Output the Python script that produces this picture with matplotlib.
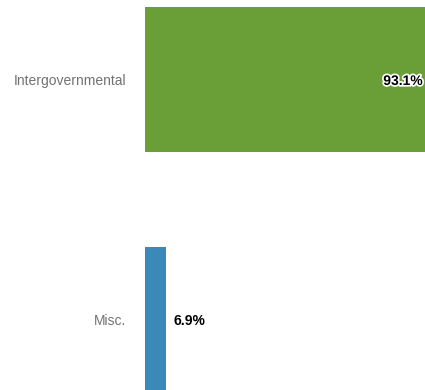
import matplotlib
matplotlib.use("Agg")
import matplotlib.pyplot as plt
import matplotlib.patheffects as pe

categories = ["Intergovernmental", "Misc."]
values = [93.1, 6.9]
labels = ["93.1%", "6.9%"]
colors = ["#6a9f38", "#3a89b9"]

plt.rcParams["font.family"] = ["Liberation Sans", "DejaVu Sans"]

fig = plt.figure(figsize=(4.25, 3.9), dpi=100)
ax = fig.add_axes([145 / 425, 0, 280 / 425, 1])

pos = list(range(len(categories)))
ax.barh(pos, values, height=0.604, color=colors)

ax.set_xlim(0, max(values))
ax.set_ylim(1.294, -0.331)

ax.set_yticks(pos)
ax.set_yticklabels(categories, color="#727272", fontsize=10)
ax.tick_params(axis="y", length=0, pad=13.5)
ax.set_xticks([])
for s in ax.spines.values():
    s.set_visible(False)

# value labels: inside the big bar, outside the small one
for i, (v, lab) in enumerate(zip(values, labels)):
    if v > 50:
        ax.annotate(lab, (v, i), xytext=(-1.5, 0), textcoords="offset points",
                    ha="right", va="center_baseline", fontsize=10, fontweight="bold",
                    color="black",
                    path_effects=[pe.withStroke(linewidth=2.5, foreground="white")])
    else:
        ax.annotate(lab, (v, i), xytext=(5.5, 0), textcoords="offset points",
                    ha="left", va="center_baseline", fontsize=10, fontweight="bold",
                    color="black")

fig.savefig("out.png", dpi=100)
